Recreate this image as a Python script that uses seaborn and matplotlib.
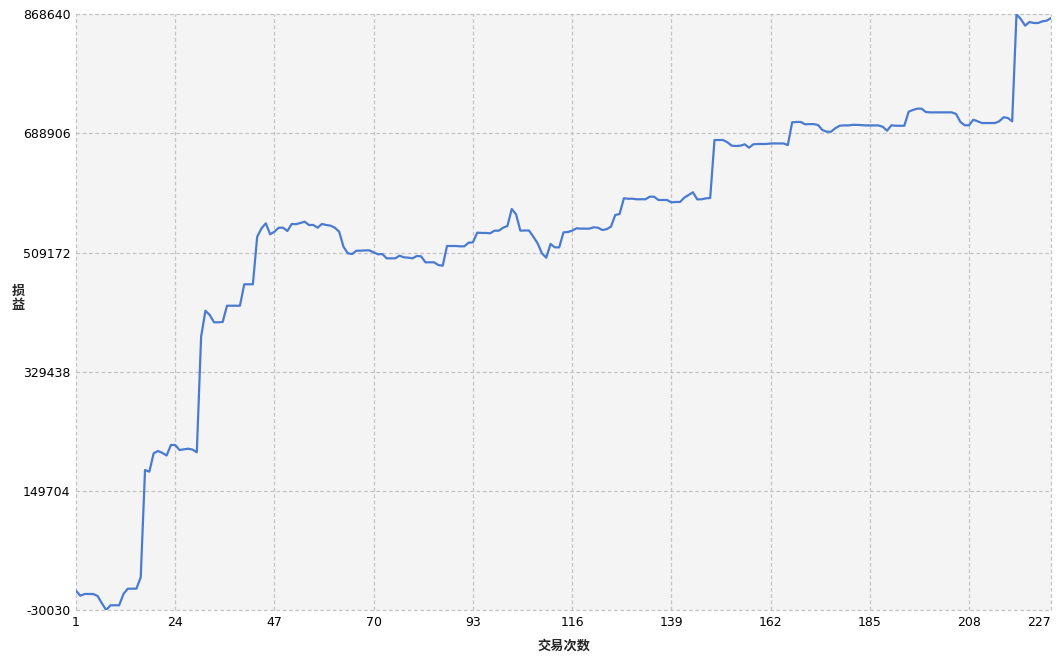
import matplotlib
matplotlib.use("Agg")
import matplotlib.pyplot as plt
import seaborn as sns
import numpy as np
import pandas as pd

# ---- data ----
trade_no = list(range(1, 228))
pnl = [
    -1000, -8460, -5890, -5890, -5890, -8910, -19900, -30030, -22940, -22940,
    -22940, -5890, 2100, 2100, 2100, 19300, 181170, 178600, 206370, 209840,
    207000, 203000, 218900, 218900, 211350, 212400, 213300, 212000, 207870, 382270,
    421500, 415000, 404000, 404000, 404500, 429000, 429000, 429000, 429000, 461330,
    461330, 461330, 533130, 545800, 553300, 536750, 540700, 546700, 546700, 541700,
    552300, 552000, 553800, 555800, 550800, 550800, 546700, 552300, 550800, 549800,
    546700, 540700, 518000, 508100, 507000, 512000, 512000, 512500, 512500, 509600,
    506600, 507000, 500500, 500500, 500500, 504500, 502000, 501500, 500500, 504000,
    503500, 494500, 494500, 494500, 490400, 489400, 519100, 519100, 519100, 518600,
    518600, 524100, 524600, 539200, 538800, 538800, 538300, 542200, 542200, 546700,
    549300, 574900, 566900, 542200, 542500, 542500, 533100, 523100, 508100, 501400,
    522100, 517100, 517000, 539700, 540200, 542200, 545800, 545300, 545300, 545300,
    547300, 546700, 543200, 544500, 548300, 565900, 567400, 591100, 590400, 590400,
    589600, 589600, 589600, 593500, 593500, 588500, 588500, 588500, 585000, 585500,
    585500, 592000, 596000, 600100, 589500, 589500, 591000, 591500, 679000, 679000,
    679000, 675500, 670400, 670000, 670400, 672500, 667400, 672500, 673000, 673000,
    673000, 673800, 673800, 673800, 673800, 671400, 705700, 706200, 706200, 702700,
    703000, 703000, 701600, 694100, 691500, 691500, 696700, 700600, 701000, 701000,
    701800, 701800, 701500, 701000, 701000, 701000, 701000, 699000, 693000, 701200,
    700500, 700500, 700500, 721700, 724300, 726300, 726300, 721200, 720700, 720700,
    720700, 720700, 720700, 720700, 718300, 706200, 701200, 701200, 709600, 707200,
    704600, 704600, 704600, 704600, 707200, 713300, 712200, 707200, 868640, 861500,
    851500, 857000, 855500, 855500, 858000, 859000, 863000,
]
x_ticks = [1, 24, 47, 70, 93, 116, 139, 162, 185, 208, 227]
y_ticks = [-30030, 149704, 329438, 509172, 688906, 868640]
x_title = "交易次数"
y_title = "损益"

sns.set_theme(style="white")
plt.rcParams['font.family'] = ['DejaVu Sans', 'Noto Sans CJK SC']

df = pd.DataFrame({"n": trade_no, "pnl": pnl})

fig = plt.figure(figsize=(10.63, 6.60), dpi=100)
fig.patch.set_facecolor("white")
ax = fig.add_axes([76 / 1063, 1 - 610 / 660, (1051 - 76) / 1063, (610 - 14.3) / 660])
ax.set_facecolor("#f4f4f4")

sns.lineplot(data=df, x="n", y="pnl", ax=ax, color="#4a7bd0", linewidth=1.6)

ax.set_xlim(1, 227)
ax.set_ylim(-30030, 868640)
ax.set_xticks(x_ticks)
ax.set_yticks(y_ticks)
ax.set_xticklabels([str(t) for t in x_ticks])
ax.set_yticklabels([str(t) for t in y_ticks])
ax.tick_params(axis="both", length=0, labelsize=9, colors="black", pad=4)
labs = ax.get_xticklabels()
labs[-1].set_horizontalalignment("right")
labs[-1].set_x(227)

for s in ax.spines.values():
    s.set_visible(False)
ax.grid(True, color="#c4c4c4", linestyle=(0, (3, 2)), linewidth=0.9)
ax.set_axisbelow(True)
for gl in ax.get_xgridlines() + ax.get_ygridlines():
    gl.set_clip_on(False)
ax.set_xlabel("")
ax.set_ylabel("")

fig.text(563.5 / 1063, 1 - 646 / 660, x_title, ha="center", va="center",
         fontsize=9.5, fontweight="bold", family=["Noto Sans CJK SC", "DejaVu Sans"])
fig.text(18 / 1063, 1 - 298 / 660, "\n".join(y_title), ha="center", va="center",
         fontsize=9.5, fontweight="bold", linespacing=1.0,
         family=["Noto Sans CJK SC", "DejaVu Sans"])

fig.savefig("out.png", dpi=100)
